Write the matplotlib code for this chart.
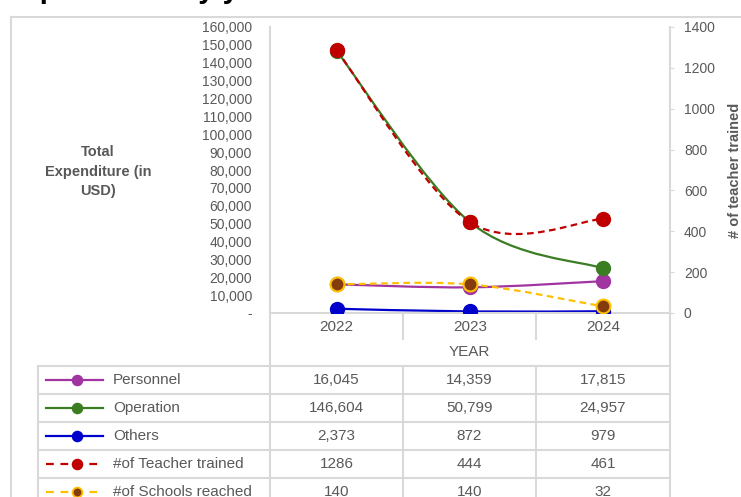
import numpy as np
import matplotlib
matplotlib.use('Agg')
import matplotlib.pyplot as plt
from matplotlib.path import Path
from matplotlib.patches import PathPatch

plt.rcParams['font.family'] = ['Liberation Sans Narrow', 'Liberation Sans', 'DejaVu Sans']

# data
years = ['2022', '2023', '2024']
personnel = [16045, 14359, 17815]
operation = [146604, 50799, 24957]
others = [2373, 872, 979]
teachers = [1286, 444, 461]
schools = [140, 140, 32]

series_names = ['Personnel', 'Operation', 'Others', '#of Teacher trained', '#of Schools reached']
table_text = [
    ['16,045', '14,359', '17,815'],
    ['146,604', '50,799', '24,957'],
    ['2,373', '872', '979'],
    ['1286', '444', '461'],
    ['140', '140', '32'],
]

left_ticks = np.arange(0, 160001, 10000)
right_ticks = np.arange(0, 1401, 200)

c_pers = '#A034A0'
c_oper = '#3B7D23'
c_oth = '#0000CC'
c_teach = '#C00000'
c_sch = '#FFC000'
c_sch_face = '#843C0C'
grey = '#595959'
line_grey = '#D9D9D9'

W, H = 741, 497
fig = plt.figure(figsize=(W / 100, H / 100), dpi=100)


def fx(px):
    return px / W


def fy(py):
    return 1 - py / H


# overlay in pixel coordinates for the frame / data table
tab = fig.add_axes([0, 0, 1, 1], zorder=-1)
tab.set_xlim(0, W)
tab.set_ylim(H, 0)
tab.axis('off')


def smooth(ax, x, y, **kw):
    # Catmull-Rom style smoothing drawn as cubic Bezier (like Excel's smoothed line)
    x = list(x)
    y = list(y)
    n = len(x)
    verts = [(x[0], y[0])]
    codes = [Path.MOVETO]
    for i in range(n - 1):
        p0 = i - 1 if i > 0 else 0
        p3 = i + 2 if i + 2 < n else n - 1
        c1 = (x[i] + (x[i + 1] - x[p0]) / 6, y[i] + (y[i + 1] - y[p0]) / 6)
        c2 = (x[i + 1] - (x[p3] - x[i]) / 6, y[i + 1] - (y[p3] - y[i]) / 6)
        verts += [c1, c2, (x[i + 1], y[i + 1])]
        codes += [Path.CURVE4] * 3
    ax.add_patch(PathPatch(Path(verts, codes), fill=False, **kw))


x = np.arange(len(years))

ax = fig.add_axes([fx(270), fy(313), fx(670) - fx(270), fy(27) - fy(313)])
ax.set_xlim(-0.5, 2.5)
ax.set_ylim(0, 160000)
ax.set_facecolor('none')

for vals, col in [(personnel, c_pers), (operation, c_oper), (others, c_oth)]:
    smooth(ax, x, vals, edgecolor=col, lw=1.6, zorder=2)
    ax.plot(x, vals, 'o', color=col, ms=10, zorder=3)

ax.set_yticks(left_ticks)
ax.set_yticklabels(['-'] + [f'{v:,}' for v in left_ticks[1:]])
ax.tick_params(axis='y', length=0, pad=13, labelsize=10, labelcolor=grey)
ax.set_xticks(x)
ax.set_xticklabels(years)
ax.tick_params(axis='x', length=0, pad=5, labelsize=11, labelcolor=grey)
for s in ['top', 'right']:
    ax.spines[s].set_visible(False)
for s in ['left', 'bottom']:
    ax.spines[s].set_color(line_grey)
    ax.spines[s].set_linewidth(1.5)

ax2 = ax.twinx()
ax2.set_ylim(0, 1400)
ax2.set_xlim(-0.5, 2.5)
smooth(ax2, x, teachers, edgecolor=c_teach, lw=1.6, linestyle=(0, (3, 2)), zorder=2)
ax2.plot(x, teachers, 'o', color=c_teach, ms=10, zorder=3)
smooth(ax2, x, schools, edgecolor=c_sch, lw=1.6, linestyle=(0, (3, 2)), zorder=2)
ax2.plot(x, schools, 'o', mfc=c_sch_face, mec=c_sch, mew=1.5, ms=10, zorder=3)
ax2.set_yticks(right_ticks)
ax2.tick_params(axis='y', length=3, color=line_grey, pad=7, labelsize=10, labelcolor=grey)
for s in ['top', 'left', 'bottom']:
    ax2.spines[s].set_visible(False)
ax2.spines['right'].set_color(line_grey)
ax2.spines['right'].set_linewidth(1.5)

# axis titles
fig.text(fx(98), fy(172), 'Total\nExpenditure (in\nUSD)', ha='center', va='center',
         fontsize=10.5, fontweight='bold', color=grey, linespacing=1.5)
fig.text(fx(735), fy(170), '# of teacher trained', rotation=90, ha='center', va='center',
         fontsize=10.5, fontweight='bold', color=grey)
fig.text(fx(4), fy(-2), 'Expenditure by year', ha='left', va='baseline',
         fontsize=21, fontweight='bold', color='black')

# chart frame
lk = dict(color=line_grey, lw=1.5)
tab.plot([11, 11], [17, H], **lk)
tab.plot([11, W], [17, 17], **lk)

# data table grid
col_edges = [270, 403, 536, 670]
row_edges = [366, 394, 422, 450, 478, 506]
tab.plot([270, 270], [313, H], **lk)
tab.plot([670, 670], [313, H], **lk)
for cx in col_edges[1:3]:
    tab.plot([cx, cx], [313, 339], **lk)
    tab.plot([cx, cx], [366, H], **lk)
tab.plot([38, 38], [366, H], **lk)
for ry in row_edges[:-1]:
    tab.plot([38, 670], [ry, ry], **lk)
tab.text(469, 352, 'YEAR', ha='center', va='center', fontsize=11, color=grey)

key_styles = [
    dict(color=c_pers, ls='-', mfc=c_pers, mec=c_pers),
    dict(color=c_oper, ls='-', mfc=c_oper, mec=c_oper),
    dict(color=c_oth, ls='-', mfc=c_oth, mec=c_oth),
    dict(color=c_teach, ls=(0, (3.5, 3)), mfc=c_teach, mec=c_teach),
    dict(color=c_sch, ls=(0, (3.5, 3)), mfc=c_sch_face, mec=c_sch),
]
for i, name in enumerate(series_names):
    cy = (row_edges[i] + row_edges[i + 1]) / 2
    st = key_styles[i]
    tab.plot([46, 103], [cy, cy], color=st['color'], ls=st['ls'], lw=1.6)
    tab.plot([77], [cy], 'o', ms=7, mfc=st['mfc'], mec=st['mec'], mew=1.3)
    tab.text(113, cy, name, ha='left', va='center', fontsize=11, color=grey)
    for j, val in enumerate(table_text[i]):
        cxm = (col_edges[j] + col_edges[j + 1]) / 2
        tab.text(cxm, cy, val, ha='center', va='center', fontsize=11, color=grey)

fig.savefig('out.png', dpi=100)
